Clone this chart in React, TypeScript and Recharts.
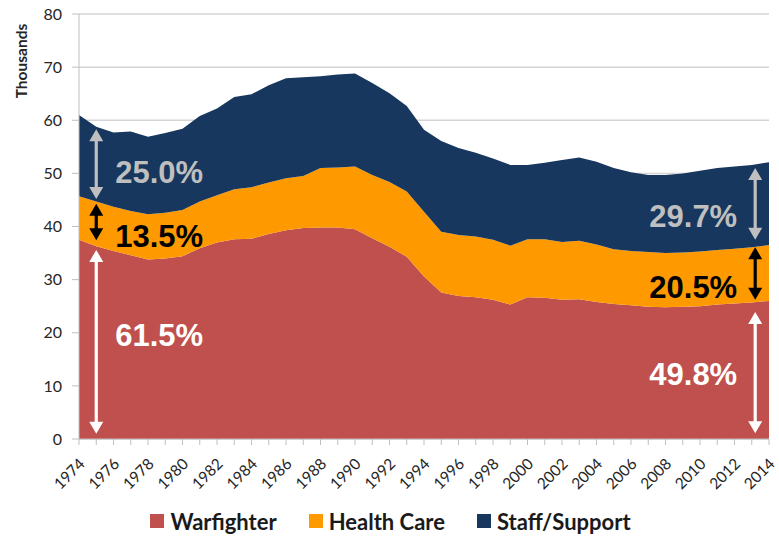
import { AreaChart, Area, XAxis, YAxis, CartesianGrid, Legend, ReferenceLine, ReferenceDot, Label } from "recharts"

const years = [
    1974, 1975, 1976, 1977, 1978, 1979, 1980, 1981, 1982, 1983,
    1984, 1985, 1986, 1987, 1988, 1989, 1990, 1991, 1992, 1993,
    1994, 1995, 1996, 1997, 1998, 1999, 2000, 2001, 2002, 2003,
    2004, 2005, 2006, 2007, 2008, 2009, 2010, 2011, 2012, 2013, 2014,
]

// thousands of people
const warfighter = [
    37.5, 36.3, 35.4, 34.6, 33.8, 34.0, 34.4, 35.9, 37.0, 37.6,
    37.7, 38.6, 39.3, 39.7, 39.8, 39.8, 39.5, 37.8, 36.2, 34.3,
    30.6, 27.6, 26.9, 26.7, 26.2, 25.3, 26.7, 26.6, 26.2, 26.3,
    25.8, 25.4, 25.2, 24.9, 24.8, 24.9, 25.0, 25.3, 25.5, 25.7, 26.0,
]
const healthCare = [
    8.2, 8.4, 8.3, 8.3, 8.5, 8.6, 8.7, 8.8, 8.9, 9.4,
    9.7, 9.7, 9.8, 9.8, 11.2, 11.3, 11.8, 11.9, 12.2, 12.3,
    12.2, 11.4, 11.5, 11.4, 11.3, 11.1, 10.9, 11.0, 10.9, 11.0,
    10.8, 10.3, 10.2, 10.3, 10.2, 10.2, 10.3, 10.3, 10.3, 10.4, 10.5,
]
const staffSupport = [
    15.3, 14.1, 14.0, 15.0, 14.6, 15.0, 15.3, 16.1, 16.3, 17.4,
    17.5, 18.3, 18.8, 18.6, 17.3, 17.5, 17.5, 17.3, 16.7, 16.1,
    15.4, 17.1, 16.4, 15.8, 15.3, 15.2, 14.0, 14.4, 15.4, 15.7,
    15.6, 15.3, 14.8, 14.5, 14.7, 14.9, 15.2, 15.4, 15.5, 15.5, 15.6,
]

const yTicks = [0, 10, 20, 30, 40, 50, 60, 70, 80]

const series = [
    { key: "warfighter", name: "Warfighter", color: "#C0504D" },
    { key: "healthCare", name: "Health Care", color: "#FF9900" },
    { key: "staffSupport", name: "Staff/Support", color: "#17375E" },
]

// share of the total at start and end, drawn as arrows across each band
const shareNotes = [
    { text: "25.0%", year: 1975, top: 58.3, bottom: 45.2, textAt: 50.2, color: "#BFBFBF", dx: 19 },
    { text: "13.5%", year: 1975, top: 44.3, bottom: 37.4, textAt: 38.1, color: "#000000", dx: 19 },
    { text: "61.5%", year: 1975, top: 35.6, bottom: 1.0, textAt: 19.6, color: "#FFFFFF", dx: 19 },
    { text: "29.7%", year: 2013.2, top: 51.0, bottom: 37.5, textAt: 41.9, color: "#BFBFBF", dx: -18 },
    { text: "20.5%", year: 2013.2, top: 36.1, bottom: 26.2, textAt: 28.5, color: "#000000", dx: -18 },
    { text: "49.8%", year: 2013.2, top: 23.9, bottom: 1.1, textAt: 12.3, color: "#FFFFFF", dx: -18 },
]

const data = years.map((year, i) => ({
    year,
    warfighter: warfighter[i],
    healthCare: healthCare[i],
    staffSupport: staffSupport[i],
}))

const axisFont = "Lato, 'DejaVu Sans', sans-serif"

function YearTick({ x, y, payload }) {
    if (payload.value % 2 !== 0) return null
    return (
        <g transform={`translate(${x + 3},${y + 14}) rotate(-45)`}>
            <text textAnchor="end" dy="0.35em" fontSize={15.5} fill="#262626" fontFamily={axisFont}>
                {payload.value}
            </text>
        </g>
    )
}

function makeArrow(color) {
    return function Arrow({ x1, y1, x2, y2 }) {
        const x = x1
        const t = Math.min(y1, y2)
        const b = Math.max(y1, y2)
        const hw = 7
        const hl = 12
        const sw = 1.6
        const d = [
            `M${x},${t}`,
            `L${x + hw},${t + hl}`,
            `L${x + sw},${t + hl}`,
            `L${x + sw},${b - hl}`,
            `L${x + hw},${b - hl}`,
            `L${x},${b}`,
            `L${x - hw},${b - hl}`,
            `L${x - sw},${b - hl}`,
            `L${x - sw},${t + hl}`,
            `L${x - hw},${t + hl}`,
            "Z",
        ].join(" ")
        return <path d={d} fill={color} />
    }
}

function makeNoteText(text, color, dx) {
    return function NoteText({ cx, cy }) {
        return (
            <text
                x={cx + dx}
                y={cy}
                dy="0.35em"
                textAnchor={dx > 0 ? "start" : "end"}
                fontSize={31}
                fontWeight="bold"
                fontFamily="'Liberation Sans', Arial, sans-serif"
                fill={color}
            >
                {text}
            </text>
        )
    }
}

function LegendBox() {
    return (
        <div
            style={{
                display: "flex",
                justifyContent: "center",
                alignItems: "center",
                gap: 32,
                height: 24,
                paddingLeft: 12,
                transform: "translateY(-3px)",
                fontFamily: axisFont,
                fontWeight: 700,
                fontSize: 22,
                color: "#1a1a1a",
            }}
        >
            {series.map((s) => (
                <div key={s.key} style={{ display: "flex", alignItems: "center", gap: 6 }}>
                    <span style={{ width: 14, height: 14, background: s.color, display: "inline-block" }} />
                    <span>{s.name}</span>
                </div>
            ))}
        </div>
    )
}

export default function App() {
    return (
        <div style={{ position: "absolute", left: 0, top: 0, width: 779, height: 536, background: "#fff" }}>
            <AreaChart width={779} height={536} data={data} margin={{ top: 14, right: 10, left: 0, bottom: 0 }}>
                <CartesianGrid vertical={false} stroke="#D4D4D4" strokeWidth={1.5} />
                <XAxis
                    dataKey="year"
                    type="number"
                    domain={[1974, 2014]}
                    ticks={years}
                    interval={0}
                    tickSize={6}
                    height={73}
                    stroke="#BFBFBF"
                    tick={<YearTick />}
                />
                <YAxis
                    domain={[0, 80]}
                    ticks={yTicks}
                    width={79}
                    tickSize={7}
                    tickMargin={10}
                    stroke="#BFBFBF"
                    tick={{ fill: "#262626", fontSize: 16, fontFamily: axisFont }}
                >
                    <Label
                        content={({ viewBox }) => (
                            <text
                                transform={`translate(${viewBox.x + 27},${viewBox.y + 47}) rotate(-90)`}
                                textAnchor="middle"
                                fontSize={15.5}
                                fontWeight="bold"
                                fontFamily={axisFont}
                                fill="#262626"
                            >
                                Thousands
                            </text>
                        )}
                    />
                </YAxis>
                {series.map((s) => (
                    <Area
                        key={s.key}
                        type="linear"
                        dataKey={s.key}
                        name={s.name}
                        stackId="total"
                        stroke="none"
                        fill={s.color}
                        fillOpacity={1}
                        isAnimationActive={false}
                    />
                ))}
                {shareNotes.map((n) => (
                    <ReferenceLine
                        key={`arrow-${n.text}`}
                        segment={[{ x: n.year, y: n.top }, { x: n.year, y: n.bottom }]}
                        ifOverflow="visible"
                        shape={makeArrow(n.color)}
                    />
                ))}
                {shareNotes.map((n) => (
                    <ReferenceDot
                        key={`text-${n.text}`}
                        x={n.year}
                        y={n.textAt}
                        r={1}
                        ifOverflow="visible"
                        shape={makeNoteText(n.text, n.color, n.dx)}
                    />
                ))}
                <Legend verticalAlign="bottom" content={<LegendBox />} />
            </AreaChart>
        </div>
    )
}
